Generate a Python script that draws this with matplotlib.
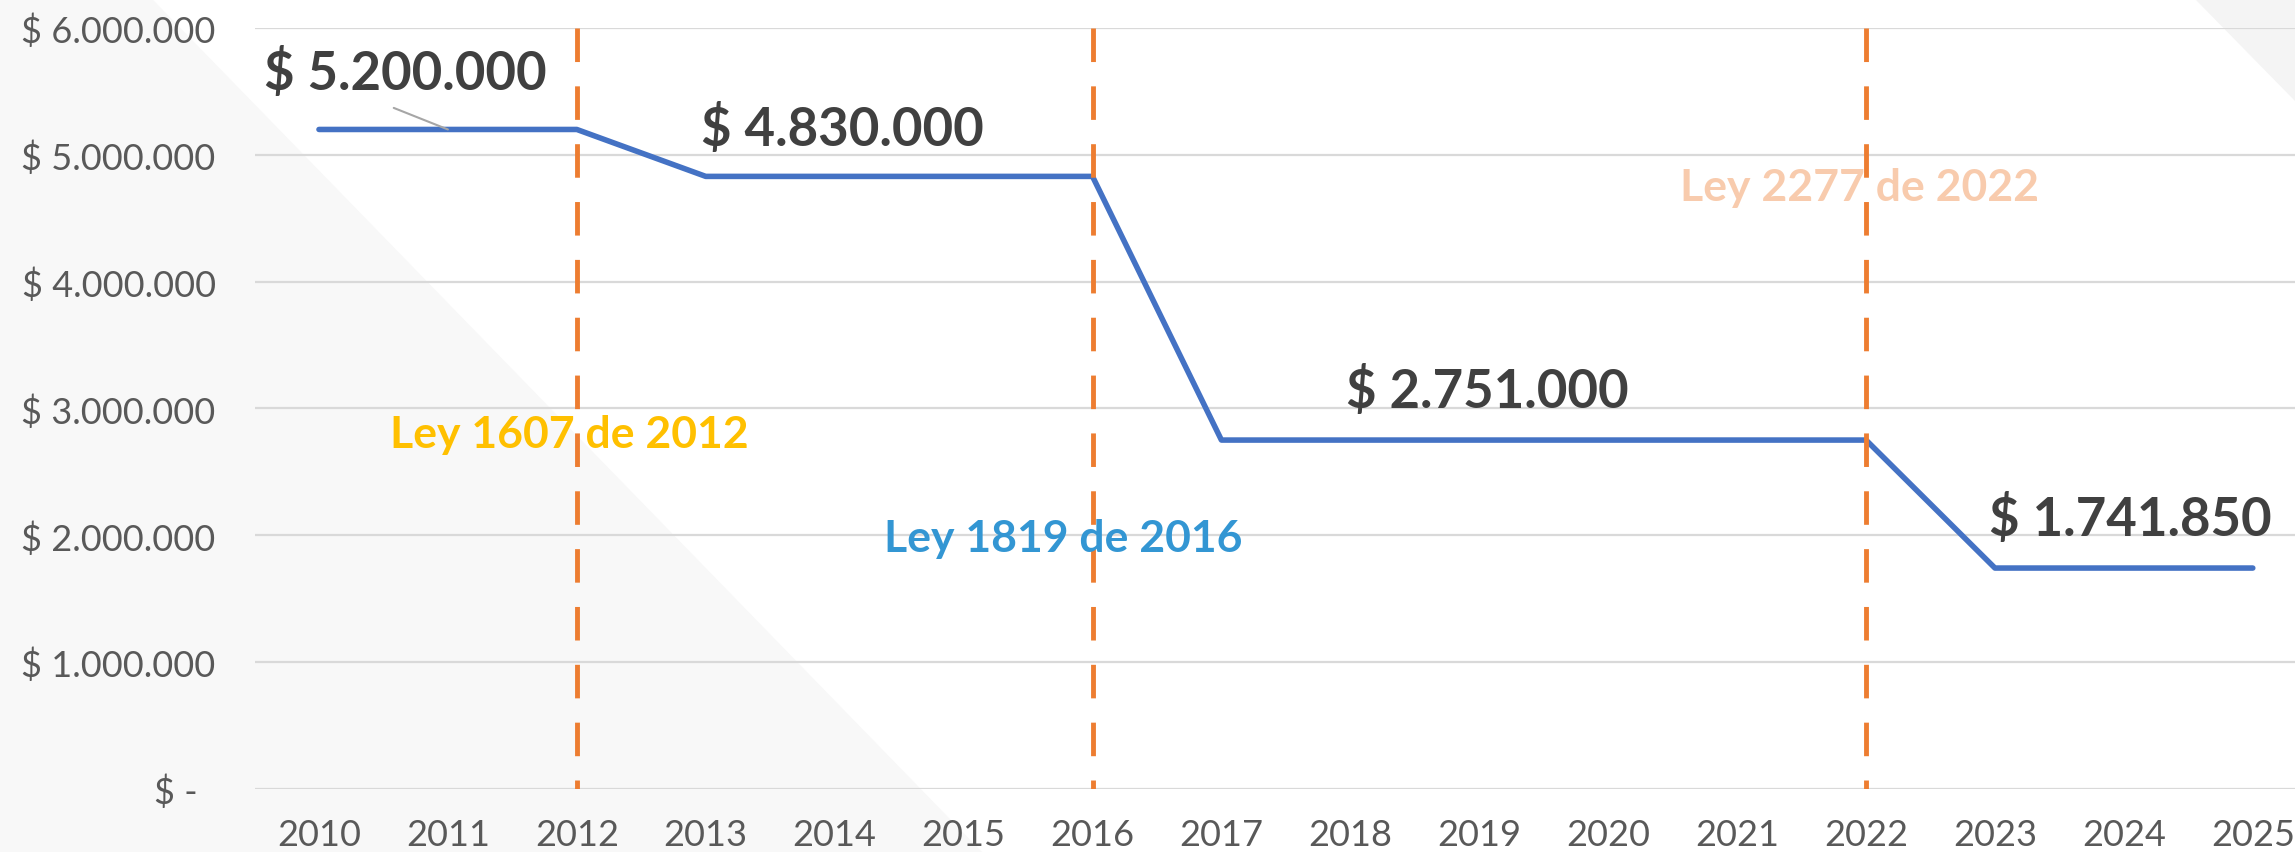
"""
Line chart of the yearly threshold value with the tax-law milestones
marked as dashed vertical lines.
"""

import matplotlib

matplotlib.use("Agg")
import matplotlib.pyplot as plt
from matplotlib.patches import Polygon
from matplotlib.ticker import FuncFormatter

YEARS: list[int] = list(range(2010, 2026))
VALUES: list[int] = [
    5200000, 5200000, 5200000,
    4830000, 4830000, 4830000, 4830000,
    2751000, 2751000, 2751000, 2751000, 2751000, 2751000,
    1741850, 1741850, 1741850,
]

LAW_YEARS: list[int] = [2012, 2016, 2022]
LAW_LABELS: list[str] = ["Ley 1607 de 2012", "Ley 1819 de 2016", "Ley 2277 de 2022"]
LAW_COLORS: list[str] = ["#FFC000", "#3396D3", "#F8CBAD"]
LAW_TEXT_POS: list[tuple[float, float]] = [(2011.94, 2.80e6), (2015.77, 1.98e6), (2021.95, 4.75e6)]

# year of the labelled point, label position
LABEL_YEARS: list[int] = [2011, 2014, 2019, 2024]
LABEL_POS: list[tuple[float, float]] = [(2010.67, 5.65e6), (2014.06, 5.21e6), (2019.06, 3.14e6), (2024.05, 2.13e6)]
LEADER_START: tuple[float, float] = (2010.58, 5.37e6)

FONT = ["Lato", "DejaVu Sans"]


def money(v: float, _pos=None) -> str:
    if v == 0:
        return "$ -  "
    return "$ " + f"{int(v):,}".replace(",", ".")


def create_chart() -> None:
    fig = plt.figure(figsize=(22.95, 8.53), dpi=100)

    # light grey background shapes
    fig.patches.append(Polygon([(0, 1), (104 / 1568, 1), (671 / 1568, 0), (0, 0)],
                               closed=True, transform=fig.transFigure,
                               facecolor="#F8F8F8", edgecolor="none", zorder=-5))
    fig.patches.append(Polygon([(1500 / 1568, 1), (1, 1), (1, 1 - 70 / 583)],
                               closed=True, transform=fig.transFigure,
                               facecolor="#F4F4F4", edgecolor="none", zorder=-5))

    ax = fig.add_axes([0.1109, 0.0739, 1.0097 - 0.1109, 0.966 - 0.0739])
    ax.patch.set_alpha(0)

    ax.set_xlim(2009.5, 2025.5)
    ax.set_ylim(0, 6000000)
    ax.set_yticks(range(0, 6000001, 1000000))
    ax.set_xticks(YEARS)
    ax.yaxis.set_major_formatter(FuncFormatter(money))
    ax.grid(axis="y", color="#D9D9D9", linewidth=1.6)
    ax.set_axisbelow(True)
    for s in ax.spines.values():
        s.set_visible(False)
    ax.tick_params(length=0, colors="#595959", labelsize=26)
    ax.tick_params(axis="y", pad=28)
    ax.tick_params(axis="x", pad=21)
    for lbl in ax.get_xticklabels() + ax.get_yticklabels():
        lbl.set_family(FONT)

    ax.plot(YEARS, VALUES, color="#4472C4", linewidth=4,
            solid_capstyle="round", solid_joinstyle="round", zorder=3)

    for yr in LAW_YEARS:
        ax.plot([yr, yr], [6000000, 0], color="#ED7D31", linewidth=3.5,
                dashes=(6.9, 5.0), zorder=4)

    for text, color, pos in zip(LAW_LABELS, LAW_COLORS, LAW_TEXT_POS):
        ax.text(pos[0], pos[1], text, color=color, fontsize=32, fontweight="bold",
                family=FONT, ha="center", va="center", zorder=5)

    # leader line for the first (moved) label
    ax.annotate("", xy=(LABEL_YEARS[0], VALUES[YEARS.index(LABEL_YEARS[0])]),
                xytext=LEADER_START,
                arrowprops=dict(arrowstyle="-", color="#A6A6A6", linewidth=1.5,
                                shrinkA=0, shrinkB=0), zorder=6)

    for yr, pos in zip(LABEL_YEARS, LABEL_POS):
        val = VALUES[YEARS.index(yr)]
        ax.text(pos[0], pos[1], money(val), ha="center", va="center",
                fontsize=38, fontweight="bold", color="#404040", family=FONT,
                zorder=6)

    fig.savefig("out.png", dpi=100)


if __name__ == "__main__":
    create_chart()
